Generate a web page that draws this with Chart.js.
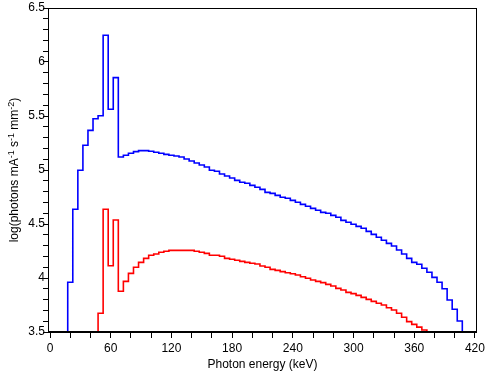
<!DOCTYPE html>
<html>
<head>
<meta charset="utf-8">
<script src="https://cdn.jsdelivr.net/npm/chart.js@4.4.1/dist/chart.umd.min.js"></script>
<style>
html,body{margin:0;padding:0;background:#fff;}
#wrap{width:488px;height:373px;position:relative;}
</style>
</head>
<body>
<div id="wrap"><canvas id="c" width="488" height="373"></canvas></div>
<script>
// Bin start energies (keV), 5 keV bins
const energies = [12.5,17.5,22.5,27.5,32.5,37.5,42.5,47.5,52.5,57.5,62.5,67.5,72.5,77.5,82.5,87.5,92.5,97.5,
  102.5,107.5,112.5,117.5,122.5,127.5,132.5,137.5,142.5,147.5,152.5,157.5,162.5,167.5,172.5,177.5,182.5,187.5,
  192.5,197.5,202.5,207.5,212.5,217.5,222.5,227.5,232.5,237.5,242.5,247.5,252.5,257.5,262.5,267.5,272.5,277.5,
  282.5,287.5,292.5,297.5,302.5,307.5,312.5,317.5,322.5,327.5,332.5,337.5,342.5,347.5,352.5,357.5,362.5,367.5,
  372.5,377.5,382.5,387.5,392.5,397.5,402.5,407.5,412.5];

// log(photons) — blue spectrum (values below 3.5 lie under the axis)
const blueSpectrum = [3.4,3.96,4.636,4.997,5.229,5.367,5.475,5.503,6.247,5.562,5.855,5.120,5.136,5.155,5.170,5.179,5.179,5.173,
  5.164,5.155,5.145,5.136,5.130,5.120,5.102,5.083,5.065,5.046,5.028,4.997,4.988,4.963,4.944,4.926,4.904,4.886,
  4.877,4.858,4.840,4.821,4.793,4.784,4.765,4.747,4.738,4.719,4.701,4.682,4.664,4.645,4.627,4.608,4.599,4.580,
  4.562,4.534,4.516,4.497,4.478,4.460,4.432,4.404,4.377,4.349,4.321,4.296,4.259,4.222,4.182,4.145,4.127,4.090,
  4.053,4.006,3.960,3.900,3.796,3.710,3.602,3.4,null];

// log(photons) — red spectrum
const redSpectrum = [null,null,null,null,null,null,3.4,3.673,4.636,4.114,4.537,3.877,3.969,4.043,4.099,4.145,4.182,4.210,
  4.222,4.238,4.247,4.256,4.256,4.256,4.256,4.256,4.247,4.238,4.228,4.210,4.210,4.201,4.182,4.173,4.164,4.154,
  4.145,4.136,4.130,4.111,4.099,4.080,4.071,4.059,4.049,4.040,4.028,4.012,3.997,3.981,3.969,3.957,3.941,3.926,
  3.904,3.889,3.867,3.855,3.839,3.821,3.802,3.784,3.766,3.750,3.725,3.704,3.673,3.636,3.596,3.571,3.545,3.518,
  3.4,null,null,null,null,null,null,null,null];

const xTickLabels = [0,60,120,180,240,300,360,420];
const yTickLabels = ['3.5','4','4.5','5','5.5','6','6.5'];
const xMinorStep = 20;
const yMinorStep = 0.1;

const toPoints = arr => energies.map((e,i) => ({x:e, y:arr[i]}));

const FONT = "'Liberation Sans', Arial, sans-serif";

const frame = {
  id:'frame',
  afterDraw(chart){
    const {ctx, chartArea:a} = chart;
    ctx.save();
    ctx.strokeStyle = '#000';
    ctx.lineWidth = 1;
    ctx.strokeRect(Math.round(a.left)+0.5, Math.round(a.top)+0.5, Math.round(a.right-a.left)-1, Math.round(a.bottom-a.top)-1);
    // y axis title with superscripts
    const parts = [['log(photons mA',0],['-1',1],[' s',0],['-1',1],[' mm',0],['-2',1],[')',0]];
    const big = '12px ' + FONT, small = '9px ' + FONT;
    let total = 0;
    parts.forEach(p => { ctx.font = p[1] ? small : big; total += ctx.measureText(p[0]).width; });
    ctx.translate(18, (a.top + a.bottom)/2);
    ctx.rotate(-Math.PI/2);
    ctx.fillStyle = '#000';
    ctx.textBaseline = 'alphabetic';
    let x = -total/2;
    parts.forEach(p => {
      ctx.font = p[1] ? small : big;
      ctx.fillText(p[0], x, p[1] ? -4 : 0);
      x += ctx.measureText(p[0]).width;
    });
    ctx.restore();
  }
};

new Chart(document.getElementById('c'), {
  type:'line',
  data:{
    datasets:[
      {label:'blue', data:toPoints(blueSpectrum), borderColor:'#0000ff', borderWidth:1.6, stepped:'before', pointRadius:0, fill:false, spanGaps:false},
      {label:'red', data:toPoints(redSpectrum), borderColor:'#ff0000', borderWidth:1.6, stepped:'before', pointRadius:0, fill:false, spanGaps:false}
    ]
  },
  options:{
    responsive:false,
    animation:false,
    events:[],
    layout:{padding:{top:8,right:8,left:0,bottom:0}},
    plugins:{legend:{display:false}, tooltip:{enabled:false}},
    scales:{
      x:{
        type:'linear', min:-2, max:422,
        afterFit(s){ s.height = 41; },
        afterBuildTicks(s){
          const t=[]; for(let v=0; v<=420; v+=xMinorStep) t.push({value:v});
          s.ticks = t;
        },
        ticks:{
          autoSkip:false, maxRotation:0, padding:3, color:'#000',
          font:{family:FONT, size:12},
          callback:(v)=> xTickLabels.includes(v) ? String(v) : ''
        },
        grid:{drawOnChartArea:false, tickLength:6, tickColor:'#000', tickWidth:1},
        border:{color:'#000', width:1},
        title:{display:true, text:'Photon energy (keV)', color:'#000', font:{family:FONT, size:12}, padding:{top:0,bottom:1}}
      },
      y:{
        type:'linear', min:3.5, max:6.5,
        afterFit(s){ s.width = 48; },
        afterBuildTicks(s){
          const t=[]; for(let i=0;i<=30;i++) t.push({value: Math.round((3.5 + i*yMinorStep)*10)/10});
          s.ticks = t;
        },
        ticks:{
          autoSkip:false, padding:-2, color:'#000',
          font:{family:FONT, size:12},
          callback:(v)=> { const l = yTickLabels.find(s => Math.abs(parseFloat(s)-v)<1e-6); return l || ''; }
        },
        grid:{drawOnChartArea:false, tickLength:5, tickColor:'#000', tickWidth:1},
        border:{color:'#000', width:1}
      }
    }
  },
  plugins:[frame]
});
</script>
</body>
</html>
